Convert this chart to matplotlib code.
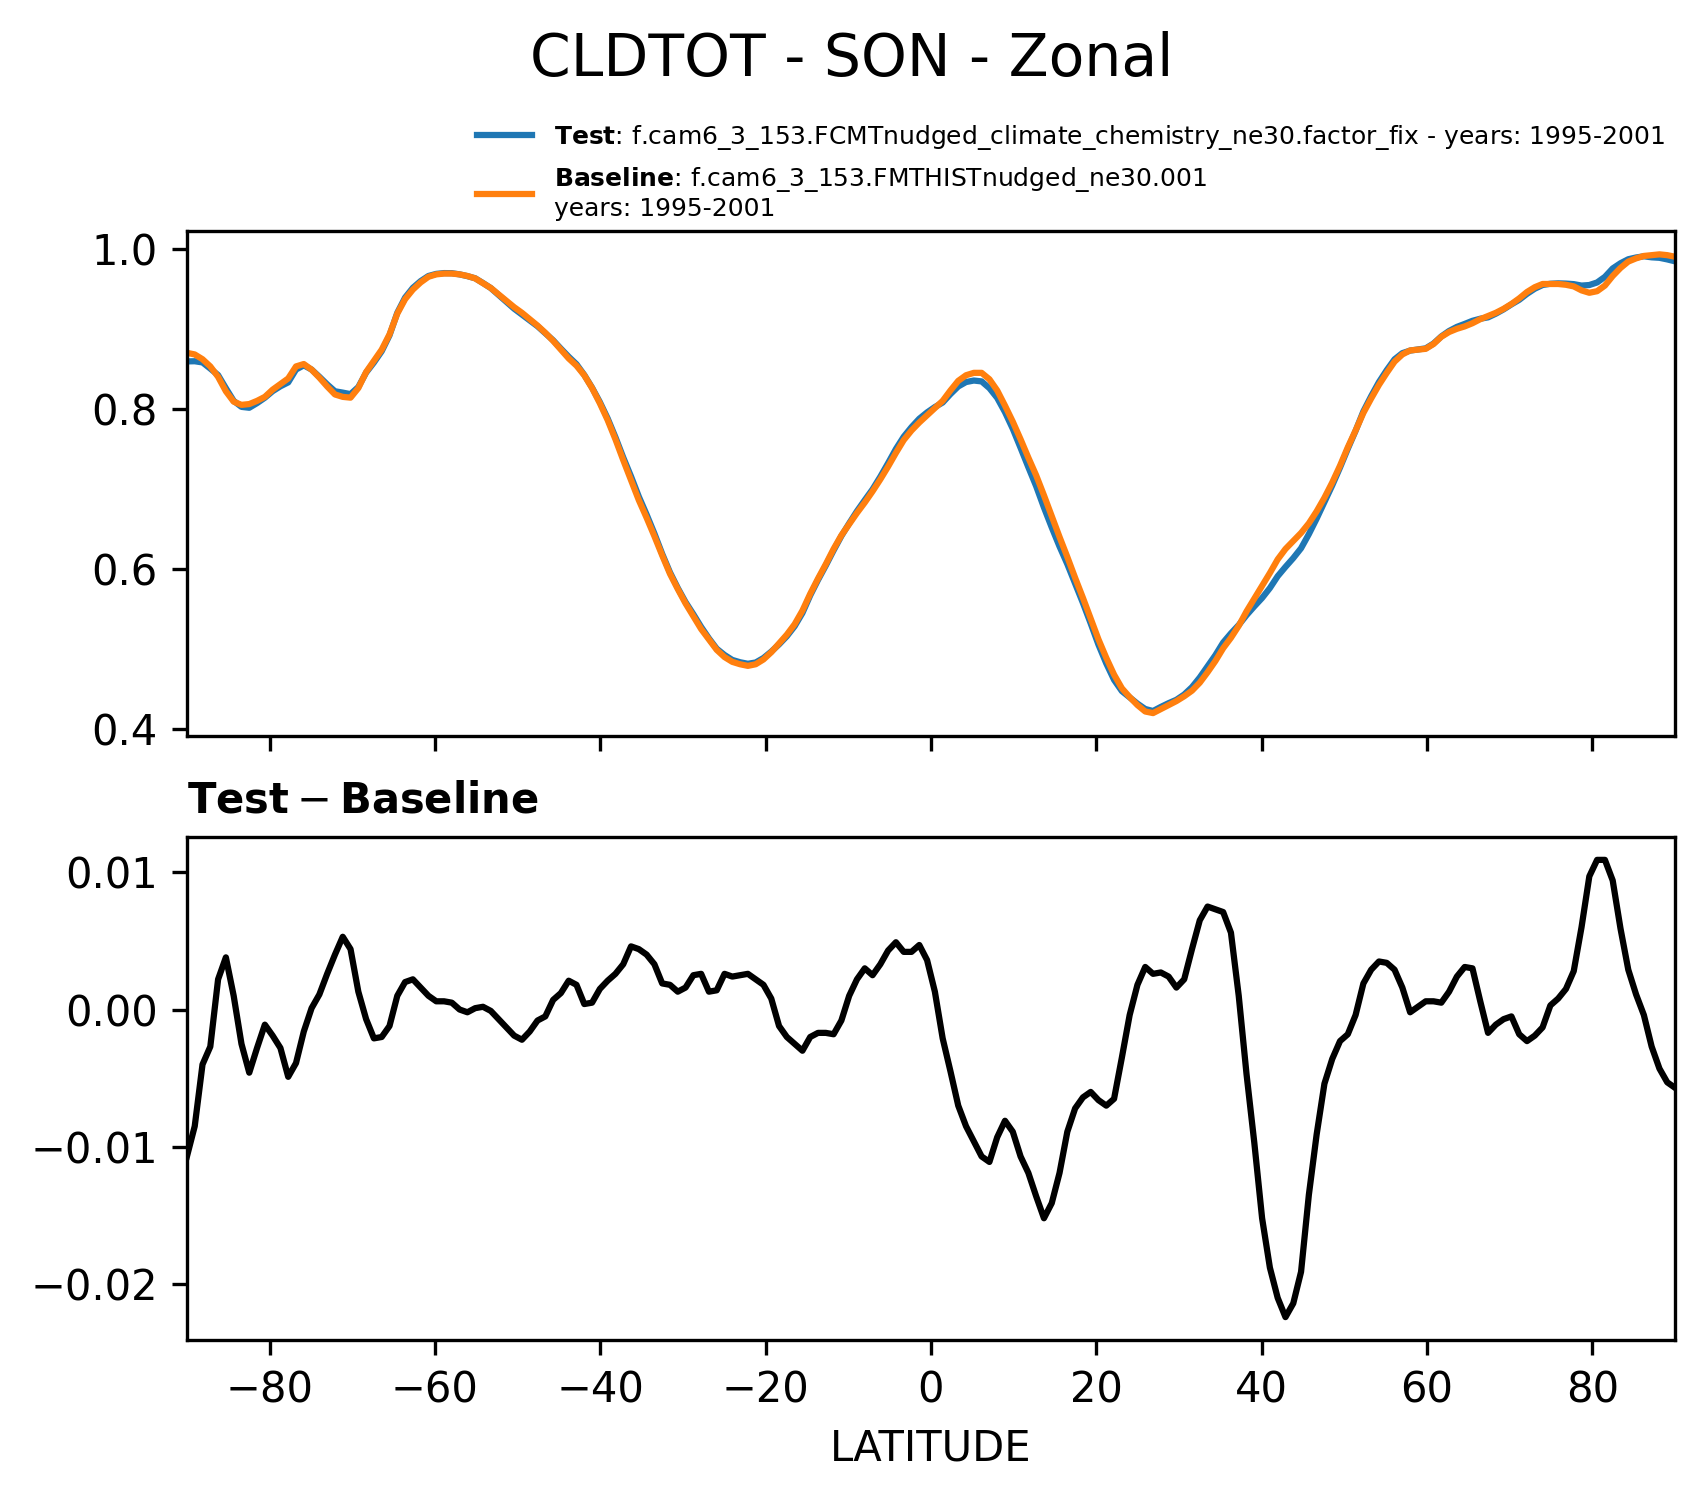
import numpy as np
import matplotlib
matplotlib.use("Agg")
import matplotlib.pyplot as plt

# 192-point latitude grid (f09 grid)
lat = np.linspace(-90, 90, 192)

# zonal mean CLDTOT, SON, baseline run
baseline = [
    0.870, 0.868, 0.862, 0.853, 0.840, 0.822, 0.809, 0.805, 0.806, 0.810,
    0.815, 0.824, 0.831, 0.838, 0.853, 0.856, 0.849, 0.839, 0.828, 0.818,
    0.815, 0.814, 0.826, 0.846, 0.860, 0.874, 0.893, 0.919, 0.937, 0.949,
    0.958, 0.965, 0.968, 0.969, 0.969, 0.968, 0.966, 0.963, 0.957, 0.951,
    0.943, 0.935, 0.927, 0.920, 0.912, 0.904, 0.895, 0.885, 0.874, 0.863,
    0.854, 0.842, 0.826, 0.807, 0.786, 0.762, 0.736, 0.711, 0.686, 0.664,
    0.641, 0.617, 0.594, 0.575, 0.557, 0.541, 0.525, 0.512, 0.499, 0.490,
    0.484, 0.481, 0.479, 0.481, 0.487, 0.496, 0.507, 0.518, 0.531, 0.548,
    0.569, 0.588, 0.606, 0.625, 0.642, 0.656, 0.670, 0.683, 0.697, 0.712,
    0.728, 0.745, 0.761, 0.773, 0.783, 0.792, 0.801, 0.810, 0.823, 0.835,
    0.842, 0.845, 0.845, 0.837, 0.823, 0.804, 0.784, 0.762, 0.739, 0.717,
    0.692, 0.666, 0.640, 0.615, 0.589, 0.564, 0.538, 0.512, 0.489, 0.468,
    0.451, 0.440, 0.430, 0.422, 0.420, 0.425, 0.430, 0.435, 0.441, 0.448,
    0.458, 0.471, 0.485, 0.501, 0.514, 0.529, 0.547, 0.563, 0.579, 0.595,
    0.612, 0.625, 0.635, 0.645, 0.657, 0.672, 0.689, 0.708, 0.729, 0.752,
    0.773, 0.795, 0.813, 0.830, 0.845, 0.859, 0.868, 0.873, 0.874, 0.875,
    0.881, 0.890, 0.896, 0.900, 0.903, 0.907, 0.912, 0.916, 0.920, 0.925,
    0.931, 0.938, 0.946, 0.952, 0.956, 0.956, 0.956, 0.955, 0.953, 0.948,
    0.945, 0.947, 0.954, 0.966, 0.976, 0.984, 0.988, 0.991, 0.992, 0.993,
    0.992, 0.990,
]

# test minus baseline
diff = [
    -0.0107, -0.0085, -0.0040, -0.0027, 0.0022, 0.0038, 0.0010, -0.0025, -0.0046, -0.0028,
    -0.0011, -0.0019, -0.0028, -0.0049, -0.0039, -0.0016, 0.0001, 0.0011, 0.0026, 0.0040,
    0.0053, 0.0044, 0.0013, -0.0007, -0.0021, -0.0020, -0.0012, 0.0010, 0.0020, 0.0022,
    0.0016, 0.0010, 0.0006, 0.0006, 0.0005, 0.0000, -0.0002, 0.0001, 0.0002, -0.0001,
    -0.0007, -0.0013, -0.0019, -0.0022, -0.0016, -0.0008, -0.0005, 0.0007, 0.0012, 0.0021,
    0.0018, 0.0004, 0.0005, 0.0015, 0.0021, 0.0026, 0.0033, 0.0046, 0.0044, 0.0040,
    0.0033, 0.0019, 0.0018, 0.0013, 0.0016, 0.0025, 0.0026, 0.0013, 0.0014, 0.0026,
    0.0024, 0.0025, 0.0026, 0.0022, 0.0018, 0.0008, -0.0012, -0.0020, -0.0025, -0.0030,
    -0.0020, -0.0017, -0.0017, -0.0018, -0.0008, 0.0010, 0.0022, 0.0030, 0.0025, 0.0033,
    0.0043, 0.0049, 0.0042, 0.0042, 0.0047, 0.0036, 0.0013, -0.0021, -0.0045, -0.0070,
    -0.0085, -0.0096, -0.0107, -0.0111, -0.0093, -0.0081, -0.0089, -0.0107, -0.0119, -0.0136,
    -0.0152, -0.0141, -0.0119, -0.0089, -0.0072, -0.0064, -0.0060, -0.0066, -0.0070, -0.0065,
    -0.0035, -0.0004, 0.0018, 0.0031, 0.0026, 0.0027, 0.0024, 0.0016, 0.0022, 0.0044,
    0.0065, 0.0075, 0.0073, 0.0071, 0.0056, 0.0010, -0.0047, -0.0097, -0.0152, -0.0188,
    -0.0210, -0.0224, -0.0214, -0.0191, -0.0135, -0.0091, -0.0054, -0.0036, -0.0023, -0.0018,
    -0.0004, 0.0019, 0.0029, 0.0035, 0.0034, 0.0029, 0.0016, -0.0002, 0.0002, 0.0006,
    0.0006, 0.0005, 0.0013, 0.0024, 0.0031, 0.0030, 0.0006, -0.0017, -0.0011, -0.0007,
    -0.0005, -0.0018, -0.0023, -0.0019, -0.0013, 0.0003, 0.0008, 0.0015, 0.0028, 0.0060,
    0.0097, 0.0109, 0.0109, 0.0094, 0.0059, 0.0029, 0.0011, -0.0004, -0.0027, -0.0043,
    -0.0053, -0.0057,
]

test = np.array(baseline) + np.array(diff)

test_label = (r"$\bf{Test}$: f.cam6_3_153.FCMTnudged_climate_chemistry_ne30.factor_fix"
              " - years: 1995-2001")
base_label = r"$\bf{Baseline}$: f.cam6_3_153.FMTHISTnudged_ne30.001" + "\nyears: 1995-2001"

fig = plt.figure(figsize=(5.68, 4.9867), dpi=300)
ax1 = fig.add_axes([0.1097, 0.508, 0.8733, 0.3373])
ax2 = fig.add_axes([0.1097, 0.1043, 0.8733, 0.3362], sharex=ax1)

ax1.plot(lat, test, color="#1f77b4", lw=1.5, label=test_label)
ax1.plot(lat, baseline, color="#ff7f0e", lw=1.5, label=base_label)
ax1.set_xlim(-90, 90)
ax1.tick_params(labelbottom=False, labelsize=10)
ax1.legend(loc="lower right", bbox_to_anchor=(1.0, 1.0), frameon=False,
           fontsize=6, handlelength=2.2, handletextpad=0.9, borderaxespad=0.0)

ax2.plot(lat, diff, color="black", lw=1.5)
ax2.set_title(r"$\mathbf{Test} - \mathbf{Baseline}$", loc="left", fontsize=10)
ax2.set_xlabel("LATITUDE", fontsize=10)
ax2.tick_params(labelsize=10)

fig.suptitle("CLDTOT - SON - Zonal", fontsize=14, y=0.979)

fig.savefig("out.png", dpi=300)
